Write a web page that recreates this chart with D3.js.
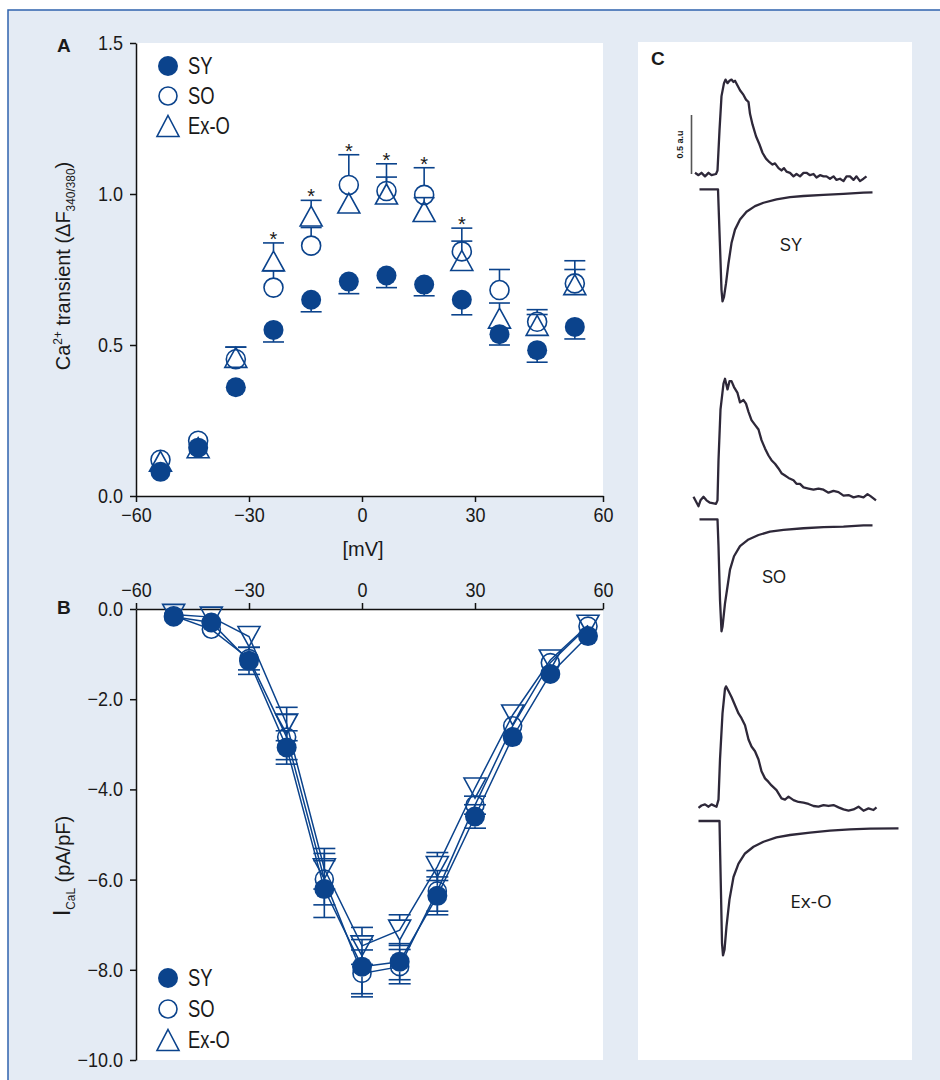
<!DOCTYPE html>
<html>
<head>
<meta charset="utf-8">
<script src="https://cdn.jsdelivr.net/npm/d3@7"></script>
<style>
  body { margin: 0; background: #fff; }
  svg text { font-family: "Liberation Sans", Arial, sans-serif; fill: #1a1a1a; }
</style>
</head>
<body>
<svg id="fig" width="940" height="1080"></svg>
<script>

// ---- panel A : Ca2+ transient vs voltage
const voltA = [-53.5, -43.5, -33.5, -23.5, -13.5, -3.5, 6.5, 16.5, 26.5, 36.5, 46.5, 56.5];
const syA = [0.08, 0.16, 0.36, 0.55, 0.65, 0.71, 0.73, 0.70, 0.65, 0.536, 0.483, 0.56];
const syErrA = [0, 0, 0, 0.04, 0.04, 0.04, 0.04, 0.037, 0.05, 0.036, 0.04, 0.04];
const soA = [0.12, 0.183, 0.453, 0.69, 0.829, 1.03, 1.01, 0.997, 0.81, 0.682, 0.577, 0.704];
const soErrA = [0, 0, 0.04, 0.056, 0.06, 0.10, 0.09, 0.09, 0.077, 0.068, 0.04, 0.075];
const exA = [0.115, 0.16, 0.459, 0.778, 0.927, 0.97, 1.0, 0.942, 0.78, 0.589, 0.565, 0.70];
const exErrA = [0, 0, 0.034, 0.06, 0.052, 0.02, 0.056, 0.046, 0.064, 0.05, 0.036, 0.05];
const sigA = [false, false, false, true, true, true, true, true, true, false, false, false];

// ---- panel B : I-V curve
const voltB = [-50, -40, -30, -20, -10, 0, 10, 20, 30, 40, 50, 60];
const syB = [-0.17, -0.30, -1.15, -3.07, -6.21, -7.93, -7.82, -6.36, -4.60, -2.84, -1.44, -0.60];
const syErrB = [0.05, 0.08, 0.30, 0.37, 0.63, 0.60, 0.40, 0.42, 0.26, 0.12, 0.08, 0.05];
const soB = [-0.15, -0.45, -1.10, -2.84, -5.99, -8.08, -7.93, -6.25, -4.35, -2.59, -1.19, -0.38];
const soErrB = [0.05, 0.10, 0.25, 0.50, 0.57, 0.52, 0.38, 0.45, 0.20, 0.10, 0.08, 0.05];
const exB = [-0.12, -0.18, -0.61, -2.55, -5.76, -7.47, -7.12, -5.71, -3.97, -2.35, -1.13, -0.36];
const exErrB = [0.05, 0.08, 0.20, 0.37, 0.45, 0.41, 0.34, 0.31, 0.18, 0.10, 0.08, 0.05];

const xTicks = [-60, -30, 0, 30, 60];
const yTicksA = [0, 0.5, 1.0, 1.5];
const yTicksB = [0, -2, -4, -6, -8, -10];
const groups = ["SY", "SO", "Ex-O"];

// ---- panel C : example recordings, [time ms, value]
// Ca transients in a.u., currents normalised to SY peak
const syCa = [[-46,0.01],[-39,-0.01],[-33,0.01],[-26,-0.02],[-19,0.01],[-13,-0.01],[-4,0],[-1,0.03],[3,0.37],[7,0.66],[12,0.77],[15,0.80],[19,0.77],[23,0.79],[27,0.80],[31,0.78],[34,0.79],[39,0.75],[44,0.71],[51,0.67],[56,0.63],[61,0.61],[64,0.51],[69,0.42],[76,0.32],[83,0.25],[89,0.18],[96,0.13],[103,0.10],[109,0.08],[114,0.09],[121,0.05],[127,0.03],[132,0.05],[137,0.02],[144,0.01],[151,-0.02],[157,0],[164,-0.02],[171,0.01],[177,0.01],[184,-0.01],[191,0],[197,-0.03],[204,-0.01],[211,-0.02],[217,-0.02],[224,-0.04],[231,-0.02],[237,-0.05],[244,-0.04],[251,-0.06],[257,-0.02],[264,-0.02],[271,-0.05],[277,-0.02],[284,-0.06],[291,-0.04],[297,-0.02]];
const syI = [[-37,0],[0,0],[1,-0.13],[4,-0.51],[7,-0.90],[9,-1.0],[12,-0.96],[16,-0.84],[21,-0.66],[27,-0.48],[34,-0.36],[44,-0.27],[57,-0.20],[74,-0.15],[91,-0.12],[117,-0.09],[144,-0.07],[171,-0.06],[211,-0.05],[251,-0.04],[291,-0.03],[309,-0.027]];
const soCa = [[-49,0.05],[-44,0.01],[-39,-0.03],[-35,0.02],[-29,0.05],[-23,0.02],[-16,0],[-4,-0.01],[-1,0.02],[1,0.36],[5,0.79],[11,1.01],[14,1.05],[19,0.96],[23,1.03],[27,1.03],[32,0.98],[39,0.93],[44,0.85],[51,0.87],[56,0.84],[61,0.77],[67,0.70],[74,0.66],[81,0.62],[87,0.53],[94,0.46],[101,0.40],[107,0.36],[114,0.33],[121,0.29],[127,0.25],[134,0.23],[141,0.21],[151,0.19],[157,0.16],[164,0.16],[171,0.13],[181,0.12],[191,0.11],[201,0.12],[211,0.11],[221,0.085],[231,0.10],[241,0.09],[251,0.06],[261,0.065],[271,0.045],[281,0.056],[291,0.045],[299,0.073],[305,0.056],[316,0.02]];
const soI = [[-37,0],[-1,0],[1,-0.24],[4,-0.72],[7,-1.0],[9,-0.96],[14,-0.75],[19,-0.60],[24,-0.45],[32,-0.33],[44,-0.24],[61,-0.18],[81,-0.14],[104,-0.11],[131,-0.095],[171,-0.08],[211,-0.07],[251,-0.065],[291,-0.054],[309,-0.054]];
const exCa = [[-39,-0.01],[-33,0.01],[-26,0.02],[-19,0],[-13,0.02],[-3,0],[1,0.06],[4,0.40],[9,0.79],[14,1.0],[16,1.02],[21,0.98],[27,0.93],[34,0.86],[41,0.79],[47,0.75],[54,0.69],[61,0.57],[67,0.51],[74,0.47],[81,0.40],[87,0.30],[94,0.24],[101,0.21],[107,0.18],[117,0.14],[127,0.07],[134,0.06],[141,0.085],[151,0.056],[161,0.04],[171,0.034],[181,0.023],[191,0.006],[201,0],[211,0.014],[221,0.006],[231,0.014],[241,-0.006],[251,-0.023],[261,-0.034],[271,-0.023],[281,0],[291,-0.034],[301,-0.014],[311,-0.028],[317,-0.006]];
const exI = [[-39,0],[3,0],[4,-0.23],[6,-0.65],[8,-1.09],[10,-1.2],[13,-1.15],[17,-0.94],[23,-0.70],[31,-0.50],[41,-0.38],[54,-0.29],[71,-0.23],[91,-0.185],[117,-0.146],[144,-0.125],[184,-0.104],[224,-0.086],[264,-0.074],[304,-0.068],[361,-0.065]];

const blue = "#0b438c";
const traceColor = "#2e2839";

document.addEventListener("DOMContentLoaded", function () {
    const svg = d3.select("#fig");

    // page background and frame
    svg.append("rect")
        .attr("x", 8).attr("y", 10).attr("width", 960).attr("height", 1100)
        .attr("fill", "#e4ebf4").attr("stroke", "#2f63ad").attr("stroke-width", 1.5);

    drawPanelA(svg);
    drawPanelB(svg);
    drawPanelC(svg);
});

// the axis in the figure puts "60" a little past where the data scale would
const xAxisScale = d3.scaleLinear().domain([-60, 30, 60]).range([136, 475, 603]);
const xData = d3.scaleLinear().domain([-60, 60]).range([136, 588]);

function triPath(cx, cy, w, h, down) {
    const s = down ? -1 : 1;
    return `M${cx},${cy - s * h / 2}L${cx + w / 2},${cy + s * h / 2}L${cx - w / 2},${cy + s * h / 2}Z`;
}

// squeeze text horizontally around its anchor (the figure uses a condensed face)
function condense(sel, k) {
    sel.each(function () {
        const el = d3.select(this);
        const x = +el.attr("x") || 0;
        el.attr("transform", `translate(${x * (1 - k)},0) scale(${k},1)`);
    });
}

function styleAxis(g, size) {
    g.selectAll(".domain").attr("stroke", "#111").attr("stroke-width", 1.5);
    g.selectAll(".tick line").attr("stroke", "#111").attr("stroke-width", 1.5);
    g.selectAll(".tick text").style("font-size", size + "px").attr("fill", "#111");
    condense(g.selectAll(".tick text"), 0.9);
}

// error bar drawn from the edge of the marker out to value +/- err
function errBar(g, x, y0, y1, gap, capW) {
    const dir = y1 < y0 ? -1 : 1;
    if (Math.abs(y1 - y0) <= gap) return;
    g.append("line").attr("x1", x).attr("x2", x)
        .attr("y1", y0 + dir * gap).attr("y2", y1)
        .attr("stroke", blue).attr("stroke-width", 1.6);
    g.append("line").attr("x1", x - capW / 2).attr("x2", x + capW / 2)
        .attr("y1", y1).attr("y2", y1)
        .attr("stroke", blue).attr("stroke-width", 1.6);
}

function legend(svg, x, y0, step) {
    const lg = svg.append("g");
    groups.forEach((name, i) => {
        const cy = y0 + i * step;
        if (i == 0) lg.append("circle").attr("cx", x).attr("cy", cy).attr("r", 10).attr("fill", blue);
        if (i == 1) lg.append("circle").attr("cx", x).attr("cy", cy).attr("r", 9).attr("fill", "none").attr("stroke", blue).attr("stroke-width", 1.6);
        if (i == 2) lg.append("path").attr("d", triPath(x, cy, 22, 21, false)).attr("fill", "none").attr("stroke", blue).attr("stroke-width", 1.6);
        lg.append("text").attr("x", x + 20).attr("y", cy + 8.5).style("font-size", "23px").text(name);
    });
    condense(lg.selectAll("text"), 0.8);
}

function drawPanelA(svg) {
    const y = d3.scaleLinear().domain([0, 1.5]).range([496, 43]);

    svg.append("rect").attr("x", 136).attr("y", 43).attr("width", 467).attr("height", 453).attr("fill", "#fff");

    const gy = svg.append("g").attr("transform", "translate(136,0)")
        .call(d3.axisLeft(y).tickValues(yTicksA).tickFormat(d3.format(".1f")).tickSize(6).tickSizeOuter(0).tickPadding(7));
    styleAxis(gy, 20);
    const gx = svg.append("g").attr("transform", "translate(0,496)")
        .call(d3.axisBottom(xAxisScale).tickValues(xTicks).tickFormat(d3.format("d")).tickSize(6).tickSizeOuter(0).tickPadding(6));
    styleAxis(gx, 20);

    svg.append("text").attr("x", 363).attr("y", 556).attr("text-anchor", "middle").style("font-size", "20px").text("[mV]");

    const yl = svg.append("text").attr("transform", "translate(70,266) rotate(-90) scale(0.95,1)")
        .attr("text-anchor", "middle").style("font-size", "21px");
    yl.append("tspan").text("Ca");
    yl.append("tspan").attr("dy", -8).style("font-size", "12.5px").text("2+");
    yl.append("tspan").attr("dy", 8).text(" transient (\u0394F");
    yl.append("tspan").attr("dy", 5).style("font-size", "12.5px").text("340/380");
    yl.append("tspan").attr("dy", -5).text(")");

    svg.append("text").attr("x", 57).attr("y", 52).style("font-size", "19px").style("font-weight", "bold").text("A");

    const plot = svg.append("g");

    // SO : open circles, bars up
    voltA.forEach((v, i) => {
        const cx = xData(v), cy = y(soA[i]);
        if (soErrA[i] > 0) errBar(plot, cx, cy, y(soA[i] + soErrA[i]), 9.5, 21);
        plot.append("circle").attr("cx", cx).attr("cy", cy).attr("r", 9.5)
            .attr("fill", "none").attr("stroke", blue).attr("stroke-width", 1.6);
    });
    // Ex-O : open triangles, bars up
    voltA.forEach((v, i) => {
        const cx = xData(v), cy = y(exA[i]);
        if (exErrA[i] > 0) errBar(plot, cx, cy, y(exA[i] + exErrA[i]), 10, 21);
        plot.append("path").attr("d", triPath(cx, cy, 22, 20, false))
            .attr("fill", "none").attr("stroke", blue).attr("stroke-width", 1.6);
    });
    // SY : filled circles, bars down
    voltA.forEach((v, i) => {
        const cx = xData(v), cy = y(syA[i]);
        if (syErrA[i] > 0) errBar(plot, cx, cy, y(syA[i] - syErrA[i]), 9, 21);
        plot.append("circle").attr("cx", cx).attr("cy", cy).attr("r", 10).attr("fill", blue);
    });

    // significance stars above the highest cap
    voltA.forEach((v, i) => {
        if (!sigA[i]) return;
        const top = Math.max(soA[i] + soErrA[i], exA[i] + exErrA[i]);
        plot.append("text").attr("x", xData(v)).attr("y", y(top) + 3)
            .attr("text-anchor", "middle").style("font-size", "20px").attr("fill", "#111").text("*");
    });

    legend(svg, 168, 66, 30);
}

function drawPanelB(svg) {
    const y = d3.scaleLinear().domain([-10, 0]).range([1060, 609]);

    svg.append("rect").attr("x", 136).attr("y", 609).attr("width", 467).attr("height", 451).attr("fill", "#fff");

    const gy = svg.append("g").attr("transform", "translate(136,0)")
        .call(d3.axisLeft(y).tickValues(yTicksB).tickFormat(d3.format(".1f")).tickSize(6).tickSizeOuter(0).tickPadding(7));
    styleAxis(gy, 20);
    const gx = svg.append("g").attr("transform", "translate(0,609)")
        .call(d3.axisTop(xAxisScale).tickValues(xTicks).tickFormat(d3.format("d")).tickSize(6).tickSizeOuter(0).tickPadding(6));
    styleAxis(gx, 20);

    const yl = svg.append("text").attr("transform", "translate(70,866) rotate(-90) scale(0.95,1)")
        .attr("text-anchor", "middle").style("font-size", "21px");
    yl.append("tspan").style("font-size", "24px").text("I");
    yl.append("tspan").attr("dy", 5).style("font-size", "12.5px").text("CaL");
    yl.append("tspan").attr("dy", -5).text(" (pA/pF)");

    svg.append("text").attr("x", 57).attr("y", 614).style("font-size", "19px").style("font-weight", "bold").text("B");

    const plot = svg.append("g");
    const line = d3.line().x((d, i) => xData(voltB[i])).y(d => y(d));

    [soB, exB, syB].forEach(series => {
        plot.append("path").datum(series).attr("d", line)
            .attr("fill", "none").attr("stroke", blue).attr("stroke-width", 1.5);
    });

    const sets = [
        { vals: soB, err: soErrB, gap: 9 },
        { vals: exB, err: exErrB, gap: 10 },
        { vals: syB, err: syErrB, gap: 10 }
    ];
    sets.forEach(s => {
        voltB.forEach((v, i) => {
            const cx = xData(v), cy = y(s.vals[i]);
            errBar(plot, cx, cy, y(s.vals[i] + s.err[i]), s.gap, 22);
            errBar(plot, cx, cy, y(s.vals[i] - s.err[i]), s.gap, 22);
        });
    });

    voltB.forEach((v, i) => {
        plot.append("circle").attr("cx", xData(v)).attr("cy", y(soB[i])).attr("r", 9)
            .attr("fill", "none").attr("stroke", blue).attr("stroke-width", 1.6);
    });
    voltB.forEach((v, i) => {
        plot.append("path").attr("d", triPath(xData(v), y(exB[i]), 22, 20, true))
            .attr("fill", "none").attr("stroke", blue).attr("stroke-width", 1.6);
    });
    voltB.forEach((v, i) => {
        plot.append("circle").attr("cx", xData(v)).attr("cy", y(syB[i])).attr("r", 10).attr("fill", blue);
    });

    legend(svg, 168, 978, 31);
}

function drawPanelC(svg) {
    svg.append("rect").attr("x", 638).attr("y", 42).attr("width", 274).attr("height", 1018).attr("fill", "#fff");
    svg.append("text").attr("x", 651).attr("y", 65).style("font-size", "19px").style("font-weight", "bold").text("C");

    const t = d3.scaleLinear().domain([0, 100]).range([718, 768]);
    const cells = [
        { ca: syCa, cur: syI, caBase: 174, iBase: 189.3, name: "SY", lx: 791, ly: 251, font: null },
        { ca: soCa, cur: soI, caBase: 502.7, iBase: 519.3, name: "SO", lx: 774, ly: 583, font: null },
        { ca: exCa, cur: exI, caBase: 806.7, iBase: 821, name: "Ex-O", lx: 811, ly: 908, font: "'Open Sans', Lato, sans-serif" }
    ];

    cells.forEach((c, k) => {
        const yCa = d3.scaleLinear().domain([0, 1]).range([c.caBase, c.caBase - 118]);
        const yI = d3.scaleLinear().domain([-1, 0]).range([c.iBase + 112, c.iBase]);
        const caLine = d3.line().x(d => t(d[0])).y(d => yCa(d[1]));
        const iLine = d3.line().x(d => t(d[0])).y(d => yI(d[1]));

        svg.append("path").datum(c.ca).attr("d", caLine)
            .attr("fill", "none").attr("stroke", traceColor).attr("stroke-width", 2.3).attr("stroke-linejoin", "round");
        svg.append("path").datum(c.cur).attr("d", iLine)
            .attr("fill", "none").attr("stroke", traceColor).attr("stroke-width", 2.3).attr("stroke-linejoin", "round");

        const lab = svg.append("text").attr("x", c.lx).attr("y", c.ly).attr("text-anchor", "middle")
            .style("font-size", c.font ? "19px" : "19px").text(c.name);
        if (c.font) lab.style("font-family", c.font);
        else condense(lab, 0.88);

        // 0.5 a.u. scale bar on the first recording
        if (k == 0) {
            svg.append("line").attr("x1", t(-53)).attr("x2", t(-53))
                .attr("y1", yCa(0)).attr("y2", yCa(0.5))
                .attr("stroke", "#555").attr("stroke-width", 1.6);
            svg.append("text").attr("transform", `translate(${t(-53) - 9},${yCa(0.25)}) rotate(-90)`)
                .attr("text-anchor", "middle").attr("fill", "#666")
                .style("font-size", "9px").style("font-weight", "bold").text("0.5 a.u");
        }
    });
}
</script>
</body>
</html>
